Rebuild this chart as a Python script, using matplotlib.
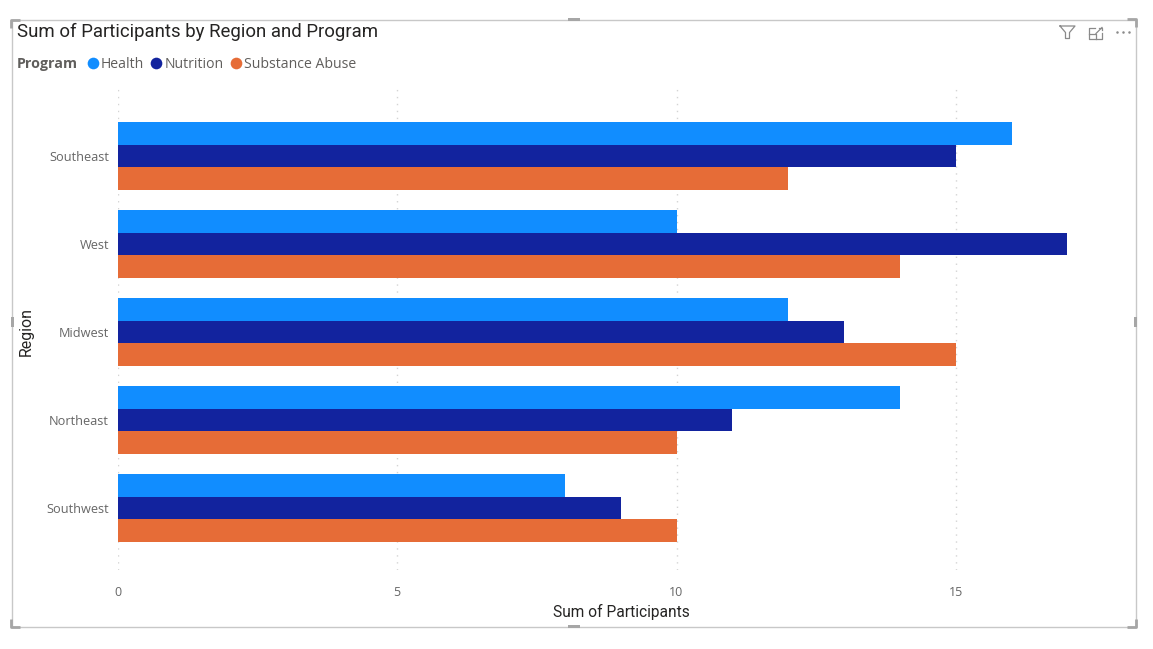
import matplotlib
matplotlib.use("Agg")
import matplotlib.pyplot as plt
from matplotlib.patches import Rectangle

# data
regions = ["Southeast", "West", "Midwest", "Northeast", "Southwest"]
programs = ["Health", "Nutrition", "Substance Abuse"]
health = [16, 10, 12, 14, 8]
nutrition = [15, 17, 13, 11, 9]
substance = [12, 14, 15, 10, 10]
colors = ["#118DFF", "#12239E", "#E66C37"]
xticks = [0, 5, 10, 15]

W, H = 1153, 649
fig = plt.figure(figsize=(W / 100, H / 100), dpi=100, facecolor="white")

# overlay in pixel coords for the visual frame, handles and icons
bg = fig.add_axes([0, 0, 1, 1])
bg.set_xlim(0, W)
bg.set_ylim(H, 0)
bg.axis("off")

# main axes, placed by pixels
left, right, top, bottom = 118, 1123.3, 88, 570
ax = fig.add_axes([left / W, 1 - bottom / H, (right - left) / W, (bottom - top) / H])
ax.patch.set_alpha(0)

bar_h = 0.2545
for i, (vals, name) in enumerate(zip([health, nutrition, substance], programs)):
    ypos = [r + (i - 1) * bar_h for r in range(len(regions))]
    ax.barh(ypos, vals, height=bar_h, color=colors[i], edgecolor="none", zorder=3, label=name)

ax.set_xlim(0, 18)
ax.set_ylim(4.705, -0.773)
ax.set_xticks(xticks)
ax.set_yticks(range(len(regions)))
ax.set_yticklabels(regions, fontsize=9.2, family="Open Sans", color="#666666")
ax.set_xticklabels([str(x) for x in xticks], fontsize=9, family="Open Sans", color="#666666")
ax.tick_params(axis="y", length=0, pad=6.5)
ax.tick_params(axis="x", length=0, pad=11.5)
ax.grid(axis="x", color="#d4d4d4", linestyle=(0, (1, 4)), linewidth=1, zorder=0)
for s in ax.spines.values():
    s.set_visible(False)

# text
din = "Roboto"
bg.text(17, 32, "Sum of Participants by Region and Program", fontsize=13.45, family=din, color="#252423", va="center", ha="left")
bg.text(17, 64, "Program", fontsize=10.3, family="Open Sans", weight="bold", color="#605E5C", va="center")
bg.text(621, 612, "Sum of Participants", fontsize=11.2, family=din, color="#252423", va="center", ha="center")
bg.text(26, 332, "Region", fontsize=11.4, family=din, color="#252423", va="center", ha="center", rotation=90)

# legend, one marker and label per program
for name, col, mx, tx in zip(programs, colors, [92.5, 156, 235.5], [101, 164.5, 243.5]):
    bg.plot([mx], [62.5], "o", ms=8.4, color=col, mew=0)
    bg.text(tx, 64, name, fontsize=10.05, family="Open Sans", color="#605E5C", va="center")

# visual frame
frame = "#c8c8c8"
handle = "#a6a6a6"
bg.add_patch(Rectangle((12, 19.5), 1124, 607.5, fill=False, ec=frame, lw=1))
for x0, y0, dx, dy in [(11, 20, 1, 1), (1136, 19, -1, 1), (11, 627, 1, -1), (1136, 627, -1, -1)]:
    bg.plot([x0 + 9 * dx, x0, x0], [y0, y0, y0 + 8 * dy], color=handle, lw=2, solid_capstyle="butt")
for x0, y0, w, h in [(568, 18, 12, 3), (568, 625, 12, 3), (11, 317, 3, 10), (1134, 317, 3, 10)]:
    bg.add_patch(Rectangle((x0, y0), w, h, color=handle, lw=0))

# header icons
icon = "#8a8a8a"
bg.plot([1060, 1075, 1069.5, 1069.5, 1065.5, 1065.5, 1060], [26, 26, 32.5, 38.5, 38.5, 32.5, 26], color=icon, lw=0.9)
bg.plot([1095, 1089, 1089, 1102, 1102], [27.5, 27.5, 38.5, 38.5, 33], color=icon, lw=0.9)
bg.plot([1089, 1096, 1096], [34, 34, 38.5], color=icon, lw=0.9)
bg.plot([1096, 1102], [33.5, 27.5], color=icon, lw=0.9)
bg.plot([1099, 1102, 1102], [27.5, 27.5, 30], color=icon, lw=0.9)
bg.plot([1117, 1123, 1129], [31.5, 31.5, 31.5], "o", ms=1.8, color=icon, mew=0)

fig.savefig("out.png", dpi=100)
